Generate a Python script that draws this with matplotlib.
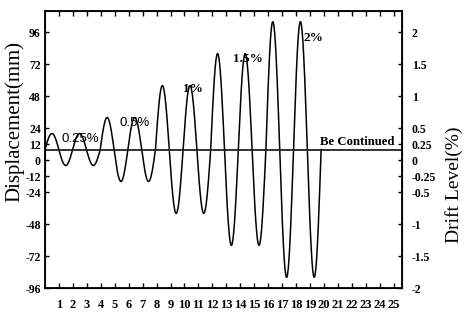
import matplotlib.pyplot as plt
import numpy as np

# loading protocol: peak displacement of each cycle (mm)
cycle_amp = [12, 12, 24, 24, 48, 48, 72, 72, 96, 96]
baseline = 8          # level the cycles swing about (mm)
period = 1.98         # cycle length in x units

x_ticks = list(range(1, 26))
disp_ticks = [96, 72, 48, 24, 12, 0, -12, -24, -48, -72, -96]
drift_labels = ['2', '1.5', '1', '0.5', '0.25', '0', '-0.25', '-0.5', '-1', '-1.5', '-2']

level_text = ['0.25%', '0.5%', '1%', '1.5%', '2%']
level_x = [1.15, 5.37, 9.89, 13.47, 18.55]
level_y = [15.9, 27.9, 53.4, 75.9, 91.7]

plt.rcParams['font.family'] = 'Liberation Serif'

fig = plt.figure(figsize=(4.67, 3.18), dpi=100)
ax = fig.add_axes([0.0964, 0.0943, 0.7644, 0.8711])

xs, ys = [], []
for i, a in enumerate(cycle_amp):
    t = np.linspace(0, period, 80)
    xs.append(i * period + t)
    ys.append(baseline + a * np.sin(2 * np.pi * t / period))
ax.plot(np.concatenate(xs), np.concatenate(ys), color='k', lw=1.1)
ax.axhline(baseline, color='#222222', lw=1.3)

ax.set_xlim(0, 25.6)
ax.set_ylim(-96, 112)

ax.set_xticks(x_ticks)
ax.set_xticklabels([str(v) for v in x_ticks], fontweight='bold', fontsize=9)
ax.set_yticks(disp_ticks)
ax.set_yticklabels([str(v) for v in disp_ticks], fontweight='bold', fontsize=8.5)
ax.tick_params(axis='x', direction='in', length=3.5, width=1, pad=8, top=True)
ax.tick_params(axis='y', direction='in', length=3, width=1, pad=3)
for s in ax.spines.values():
    s.set_linewidth(1.3)

ax2 = ax.twinx()
ax2.set_ylim(ax.get_ylim())
ax2.set_yticks(disp_ticks)
ax2.set_yticklabels(drift_labels, fontweight='bold', fontsize=8.5)
ax2.tick_params(axis='y', direction='in', length=3, width=1, pad=7)

ax.set_ylabel('Displacement(mm)', fontsize=15)
ax.yaxis.set_label_coords(-0.057, 0.6)

fig.text(0.972, 0.42, 'Drift Level(%)', rotation=90, fontsize=14,
         ha='center', va='center')

for i, lab in enumerate(level_text):
    if i < 2:
        ax.text(level_x[i], level_y[i], lab, fontsize=9.5, family='Liberation Sans',
                ha='left', va='center')
    else:
        ax.text(level_x[i], level_y[i], lab, fontsize=9.5, fontweight='bold',
                ha='left', va='center')

ax.text(25.07, baseline + 1.5, 'Be Continued', fontsize=9.2, fontweight='bold',
        ha='right', va='bottom')

fig.savefig('out.png', dpi=100)
